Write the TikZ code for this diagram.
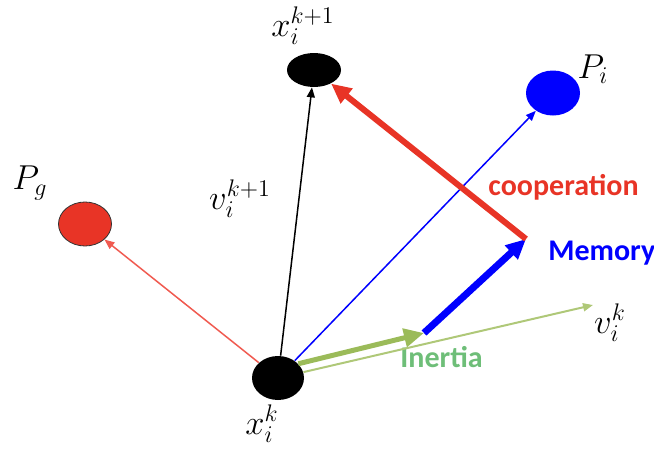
\documentclass[tikz,border=0pt]{standalone}
\usepackage{fontspec}
\newfontfamily\labelfont{Carlito}
\usetikzlibrary{positioning, arrows.meta, shapes, calc}
\definecolor{gbest}{RGB}{232,52,38}
\definecolor{thinred}{RGB}{240,90,80}
\definecolor{pbest}{RGB}{0,0,255}
\definecolor{inert}{RGB}{155,187,89}
\definecolor{inertlight}{RGB}{175,200,120}
\definecolor{inerttext}{RGB}{110,190,120}

\begin{document}
\begin{tikzpicture}[x=0.5pt, y=-0.5pt,
  particle/.style={ellipse, inner sep=0pt},
  sym/.style={font=\fontsize{17}{20}\selectfont},
  term/.style={font=\labelfont\bfseries\fontsize{15}{18}\selectfont, inner sep=0pt},
  thin arrow/.style={-{Triangle[length=5pt, width=4pt]}, line width=0.75pt},
  thick arrow/.style={-{Triangle[length=10pt, width=9pt]}, line width=3pt}]
\useasboundingbox (0,0) rectangle (654,450);
% particles
\node[particle, fill=black, minimum width=26pt, minimum height=22pt] (xk) at (278,378) {};
\node[particle, fill=black, minimum width=27pt, minimum height=17pt] (xk1) at (314,70) {};
\node[particle, draw=black!80, fill=gbest, minimum width=26.5pt, minimum height=22pt] (pg) at (85,224) {};
\node[particle, fill=pbest, minimum width=27pt, minimum height=22.5pt] (pi) at (553,93) {};
% symbols
\node[sym] (xkl) at (262,424) {$x_i^k$};
\node[sym] (xk1l) at (303,26) {$x_i^{k+1}$};
\node[sym] (pgl) at (30,183) {$P_g$};
\node[sym] (pil) at (593,69) {$P_i$};
\node[sym] (vk1l) at (240,199) {$v_i^{k+1}$};
\node[sym] (vkl) at (610,323) {$v_i^k$};
% velocity terms
\node[term, gbest, anchor=base west] (coop) at (488,195) {cooperation};
\node[term, pbest, anchor=base west] (mem) at (548,260) {Memory};
\node[term, inerttext, anchor=base west] (inr) at (400,367) {Inertia};
\coordinate (vk) at (593,305);
\coordinate (inertia end) at (424,333);
\coordinate (memory end) at (526,239);
% vectors
\draw[thin arrow, thinred] (xk) -- (pg);
\draw[thin arrow, black] (xk) -- (xk1);
\draw[thin arrow, pbest] (xk) -- (pi);
\draw[thin arrow, inertlight, line width=1pt] (xk) -- (vk);
\draw[thick arrow, inert, line width=2.5pt] (xk.35) -- (inertia end);
\draw[thick arrow, pbest, line width=3.5pt] (inertia end) -- (memory end);
\draw[thick arrow, gbest] (memory end) -- (xk1);
\end{tikzpicture}
\end{document}
